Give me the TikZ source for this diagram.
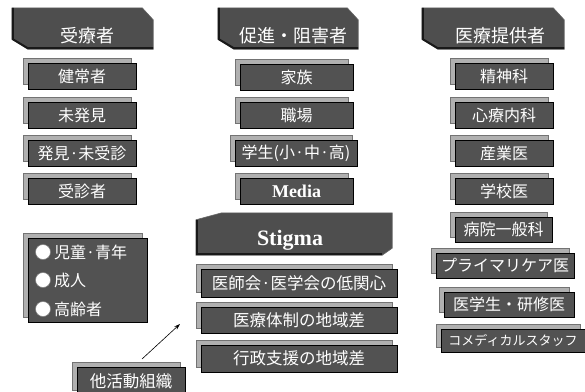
\documentclass[tikz,border=0pt]{standalone}
\usepackage{fontspec}
\newfontfamily\jp{Noto Sans CJK JP}
\newfontfamily\tnr{Liberation Serif}
\usetikzlibrary{shadows,calc,backgrounds,arrows.meta}
\definecolor{frontgray}{HTML}{525252}
\definecolor{shadowgray}{HTML}{B0B0B0}
\definecolor{hdrgray}{HTML}{4E4E4E}
\tikzset{
  fbox/.style={draw=black, line width=0.9pt, fill=frontgray, text=white, inner sep=0pt,
    minimum height=26pt, font=\jp\fontsize{16}{16}\selectfont,
    general shadow={shadow xshift=-5pt, shadow yshift=5pt, fill=shadowgray, draw=black!55, line width=0.6pt}},
  hdr/.style={inner sep=0pt, text=white, font=\jp\fontsize{18}{18}\selectfont, minimum height=41pt},
  hfill/.style={fill=hdrgray, draw=black!60, line width=0.6pt},
  bevel/.style={draw=black!90, line width=2pt},
  dot/.style={circle, fill=white, draw=black!50, line width=0.5pt, minimum size=15pt, inner sep=0pt},
  agetext/.style={anchor=west, text=white, inner sep=0pt, font=\jp\fontsize{16}{16}\selectfont},
}
\begin{document}
\begin{tikzpicture}[x=1pt,y=-1pt]
\useasboundingbox (0,0) rectangle (585,391);
% headers
\node[hdr, minimum width=141pt] (h1) at (82.5,28.5) {\raisebox{-14pt}[0pt][0pt]{\hspace{10pt}受療者}};
\node[hdr, minimum width=140pt] (h2) at (288,28.5) {\raisebox{-14pt}[0pt][0pt]{\hspace{10pt}促進・阻害者}};
\node[hdr, minimum width=142pt] (h3) at (493,28.5) {\raisebox{-14pt}[0pt][0pt]{\hspace{14pt}医療提供者}};
\node[hdr, minimum width=196pt, minimum height=42pt, font=\tnr\bfseries\fontsize{22}{22}\selectfont] (hs) at (294,234) {\raisebox{-11pt}[0pt][0pt]{Stigma\hspace{8pt}}};
\begin{scope}[on background layer]
\fill[white] (0,0) rectangle (585,391);
\foreach \n in {h1,h2,h3} {
  \path[hfill] (\n.north west) -- ($(\n.north east)+(-11,0)$) -- ($(\n.north east)+(0,12)$)
    -- (\n.south east) -- ($(\n.south west)+(16,0)$) -- ($(\n.south west)+(0,-10)$) -- cycle;
  \draw[bevel] ($(\n.north west)+(1,0)$) -- ($(\n.south west)+(1,-10)$) -- ($(\n.south west)+(16,-1)$) -- ($(\n.south east)+(0,-1)$);
}
\path[hfill] ($(hs.north west)+(0,7)$) -- ($(hs.north west)+(26,0)$) -- (hs.north east)
  -- ($(hs.south east)+(0,-7)$) -- ($(hs.south east)+(-10,0)$) -- (hs.south west) -- cycle;
\draw[bevel] ($(hs.north west)+(1,7)$) -- ($(hs.south west)+(1,-1)$) -- ($(hs.south east)+(-10,-1)$);
\end{scope}
% column 1
\node[fbox, minimum width=108pt] (b11) at (82,76) {健常者};
\node[fbox, minimum width=108pt] (b12) at (82,115) {未発見};
\node[fbox, minimum width=108pt] (b13) at (82,153) {発見·未受診};
\node[fbox, minimum width=108pt] (b14) at (82,191) {受診者};
% column 2
\node[fbox, minimum width=113pt] (b21) at (296.5,77) {家族};
\node[fbox, minimum width=113pt] (b22) at (296.5,115) {職場};
\node[fbox, minimum width=122pt] (b23) at (296,153) {学生(小·中·高)};
\node[fbox, minimum width=113pt, font=\tnr\bfseries\fontsize{18}{18}\selectfont] (b24) at (296.5,191) {Media};
% column 3
\node[fbox, minimum width=98pt] (b31) at (504,76) {精神科};
\node[fbox, minimum width=98pt] (b32) at (504,115) {心療内科};
\node[fbox, minimum width=98pt] (b33) at (504,153) {産業医};
\node[fbox, minimum width=98pt] (b34) at (504,191) {学校医};
\node[fbox, minimum width=97pt, minimum height=25pt] (b35) at (503.5,229.5) {病院一般科};
\node[fbox, minimum width=138pt, minimum height=25pt] (b36) at (505,265.5) {プライマリケア医};
\node[fbox, minimum width=130pt, minimum height=25pt] (b37) at (509,304.5) {医学生・研修医};
\node[fbox, minimum width=144pt, minimum height=23pt, font=\jp\fontsize{13}{13}\selectfont] (b38) at (513,340.5) {コメディカルスタッフ};
% stigma sub boxes
\node[fbox, minimum width=196pt, minimum height=28pt, font=\jp\fontsize{16.5}{16.5}\selectfont] (s1) at (299,283) {医師会·医学会の低関心};
\node[fbox, minimum width=196pt, minimum height=26pt, font=\jp\fontsize{16.5}{16.5}\selectfont] (s2) at (299,320) {医療体制の地域差};
\node[fbox, minimum width=196pt, minimum height=27pt, font=\jp\fontsize{16.5}{16.5}\selectfont] (s3) at (299,358.5) {行政支援の地域差};
% age box
\node[fbox, minimum width=119pt, minimum height=84pt] (ag) at (87.5,280) {};
\node[dot] (c1) at (43,252) {};
\node[dot] (c2) at (43,280) {};
\node[dot] (c3) at (43,309) {};
\node[agetext] (t1) at (54,252) {児童·青年};
\node[agetext] (t2) at (54,280) {成人};
\node[agetext] (t3) at (54,309) {高齢者};
% other organisations
\node[fbox, minimum width=108pt, minimum height=28pt, font=\jp\fontsize{16.5}{16.5}\selectfont] (ot) at (131,381) {他活動組織};
\coordinate (arrS) at (142,359);
\coordinate (arrE) at (180,324);
\draw[line width=0.6pt, -{Stealth[length=6pt,width=4pt]}] (arrS) -- (arrE);
\end{tikzpicture}
\end{document}
